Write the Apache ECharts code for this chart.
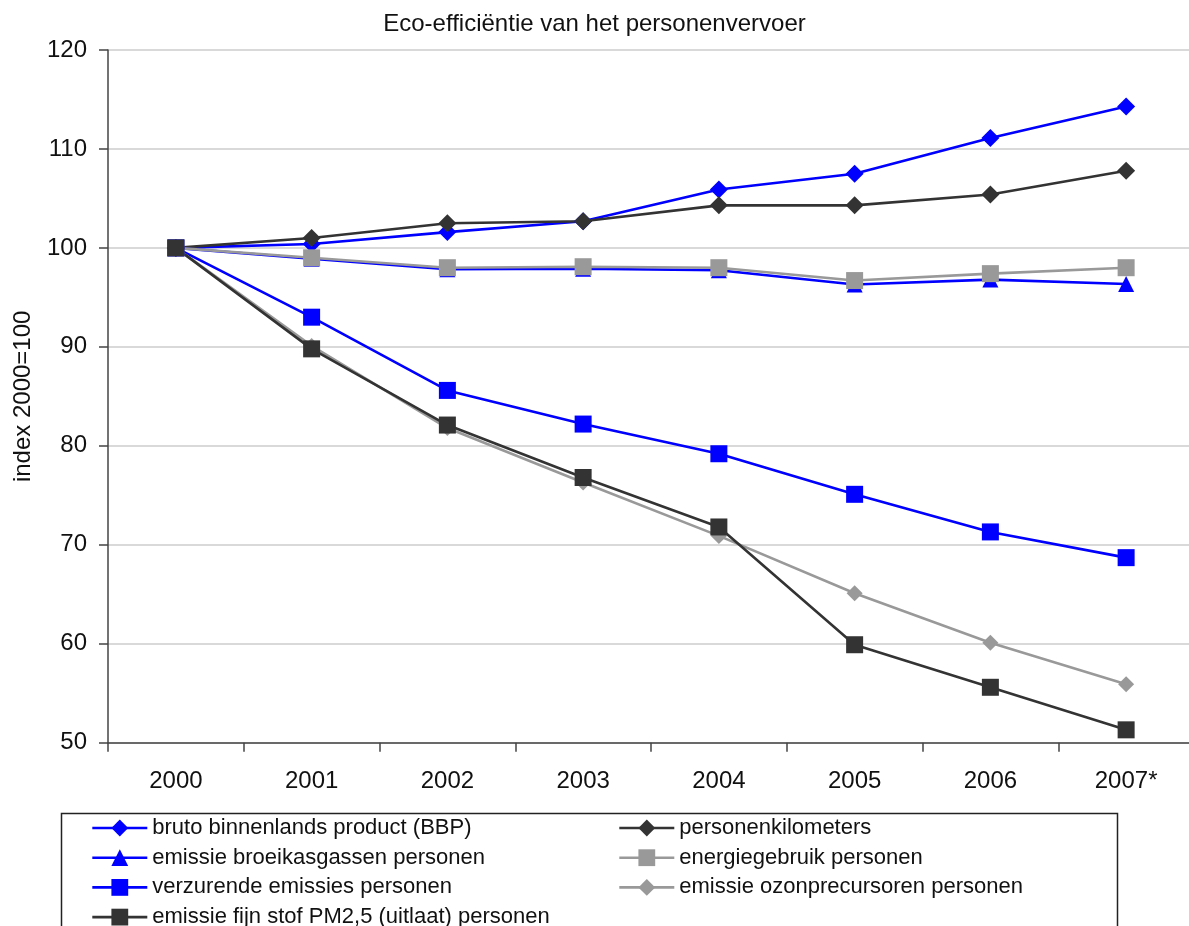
<!DOCTYPE html>
<html>
<head>
<meta charset="utf-8">
<script src="https://cdn.jsdelivr.net/npm/echarts@6/dist/echarts.min.js"></script>
<style>
html,body{margin:0;padding:0;background:#fff;}
#c{width:1189px;height:926px;}
</style>
</head>
<body>
<div id="c"></div>
<script>
const categories = ['2000','2001','2002','2003','2004','2005','2006','2007*'];
const yTicks = [50,60,70,80,90,100,110,120];
const bbp        = [100,100.4,101.6,102.7,105.9,107.5,111.1,114.3];
const personenkm = [100,101.0,102.5,102.7,104.3,104.3,105.4,107.8];
const broeikas   = [100,98.9,97.85,97.9,97.75,96.3,96.8,96.35];
const energie    = [100,99.0,98.0,98.1,98.0,96.7,97.4,98.0];
const verzurende = [100,93.0,85.6,82.2,79.2,75.1,71.3,68.7];
const ozon       = [100,90.1,81.8,76.3,70.9,65.1,60.1,55.9];
const pm25       = [100,89.8,82.1,76.8,71.8,59.9,55.6,51.3];

const names = [
  'bruto binnenlands product (BBP)',
  'personenkilometers',
  'emissie broeikasgassen personen',
  'energiegebruik personen',
  'verzurende emissies personen',
  'emissie ozonprecursoren personen',
  'emissie fijn stof PM2,5 (uitlaat) personen'
];

const FONT = 'Liberation Sans';
const BLUE = '#0000ff', DARK = '#333333', GRAY = '#999999';
function mk(name, data, color, symbol, size) {
  return {
    name: name, type: 'line', data: data,
    symbol: symbol, symbolSize: size,
    lineStyle: {color: color, width: 2.6},
    itemStyle: {color: color, borderWidth: 0},
    emphasis: {disabled: true},
    animation: false
  };
}

const chart = echarts.init(document.getElementById('c'));
const legendText = {fontSize: 22, color: '#111', lineHeight: 21, fontFamily: FONT};
const legendCommon = {
  orient: 'vertical', top: 817, padding: 0, height: 200,
  itemWidth: 55, itemHeight: 21, itemGap: 7.7,
  textStyle: legendText, selectedMode: false,
  lineStyle: {width: 2.6}
};
chart.setOption({
  textStyle: {fontFamily: FONT},
  title: {
    text: 'Eco-efficiëntie van het personenvervoer',
    left: 'center', top: 7,
    textStyle: {fontSize: 24, fontWeight: 'normal', color: '#111', fontFamily: FONT}
  },
  graphic: [{
    type: 'rect', left: 59, top: 811,
    shape: {width: 1056, height: 140},
    style: {fill: 'none', stroke: '#222', lineWidth: 1.5},
    z: 0
  }],
  legend: [
    Object.assign({left: 91, data: [names[0], names[2], names[4], names[6]]}, legendCommon),
    Object.assign({left: 618, data: [names[1], names[3], names[5]]}, legendCommon)
  ],
  grid: {left: 108, right: -5, top: 50, bottom: 183.3, outerBoundsMode: 'none', containLabel: false},
  xAxis: {
    type: 'category', data: categories, boundaryGap: true,
    axisLine: {lineStyle: {color: '#444', width: 1.5}},
    axisTick: {show: true, length: 9, lineStyle: {color: '#444', width: 1.5}},
    axisLabel: {fontSize: 24, color: '#111', margin: 27},
    splitLine: {show: false}
  },
  yAxis: {
    type: 'value', min: 50, max: 120, interval: 10,
    name: 'index 2000=100', nameLocation: 'middle', nameGap: 73, nameRotate: 90,
    nameTextStyle: {fontSize: 24, color: '#111'},
    axisLine: {show: true, lineStyle: {color: '#444', width: 1.5}},
    axisTick: {show: true, length: 9, lineStyle: {color: '#444', width: 1.5}},
    axisLabel: {fontSize: 24, color: '#111', margin: 21},
    splitLine: {show: true, lineStyle: {color: '#cccccc', width: 1.5}}
  },
  series: [
    mk(names[0], bbp, BLUE, 'diamond', 18),
    mk(names[1], personenkm, DARK, 'diamond', 18),
    mk(names[2], broeikas, BLUE, 'triangle', 16),
    mk(names[3], energie, GRAY, 'rect', 17),
    mk(names[4], verzurende, BLUE, 'rect', 17),
    mk(names[5], ozon, GRAY, 'diamond', 16),
    mk(names[6], pm25, DARK, 'rect', 17)
  ]
});
</script>
</body>
</html>
